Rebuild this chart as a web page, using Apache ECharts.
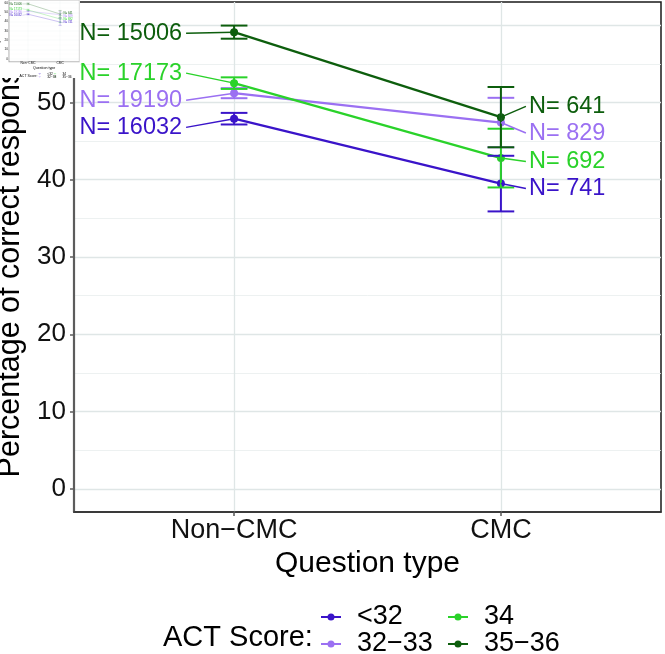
<!DOCTYPE html>
<html>
<head>
<meta charset="utf-8">
<script src="https://cdn.jsdelivr.net/npm/echarts@6/dist/echarts.min.js"></script>
<style>
html, body { margin: 0; padding: 0; background: #fff; }
#chart { width: 665px; height: 654px; }
</style>
</head>
<body>
<div id="chart"></div>
<script>
// data
var categories = ['Non\u2212CMC', 'CMC'];
var groupNames = ['<32', '32\u221233', '34', '35\u221236'];
var meanLt32 = [47.9, 39.5];
var mean3233 = [51.2, 47.4];
var mean34 = [52.5, 42.8];
var mean3536 = [59.1, 48.1];
var errLt32 = [0.75, 3.6];
var err3233 = [0.65, 3.2];
var err34 = [0.75, 3.8];
var err3536 = [0.85, 3.9];
var nLt32 = [16032, 741];
var n3233 = [19190, 829];
var n34 = [17173, 692];
var n3536 = [15006, 641];
var yTicks = [0, 10, 20, 30, 40, 50, 60];
var yMinor = [5, 15, 25, 35, 45, 55];

var FONT = 'Liberation Sans';
var colors = ['#3a14c9', '#9b70f2', '#2ad22a', '#0d5e0d'];

// where the N= labels sit relative to their point (px)
var labelOffsets = [
    [[-52, 8.7], [28, 5]],
    [[-52, 7], [28, 10.5]],
    [[-52, -10], [28, 3.4]],
    [[-52, 1], [28, -10.8]]
];

var groups = [
    { mean: meanLt32, err: errLt32, n: nLt32 },
    { mean: mean3233, err: err3233, n: n3233 },
    { mean: mean34, err: err34, n: n34 },
    { mean: mean3536, err: err3536, n: n3536 }
];

var legendIcon = 'path://M0,3.5L20,3.5L20,5.5L0,5.5ZM13.5,4.5A3.5,3.5,0,1,1,6.5,4.5A3.5,3.5,0,1,1,13.5,4.5Z';

var option = {
    animation: false,
    backgroundColor: '#fff',
    textStyle: { fontFamily: FONT },
    grid: [], xAxis: [], yAxis: [], series: [], legend: [], graphic: []
};

function addChart(s, ox, oy, zb) {
    var gi = option.grid.length;
    var xi = option.xAxis.length;
    var yi = option.yAxis.length;

    option.grid.push({
        left: ox + 74 * s, top: oy + 2 * s, width: 587 * s, height: 510 * s,
        outerBoundsMode: 'none', containLabel: false,
        show: true, backgroundColor: '#fff', borderColor: '#1a1a1a', borderWidth: 1.5 * s, z: zb
    });

    option.xAxis.push({
        type: 'value', gridIndex: gi, min: 0.4, max: 2.6, z: zb + 1,
        name: 'Question type', nameLocation: 'middle', nameGap: 34 * s,
        nameTextStyle: { fontSize: 30 * s, color: '#000' },
        axisLine: { show: true, onZero: false, lineStyle: { color: '#333', width: 1.5 * s } },
        axisTick: { show: true, customValues: [1, 2], length: 4 * s, lineStyle: { color: '#555', width: 1.5 * s } },
        axisLabel: {
            customValues: [1, 2], fontSize: 27 * s, margin: 5 * s, color: '#111',
            formatter: function (v) { return categories[Math.round(v) - 1]; }
        },
        splitLine: { show: true, lineStyle: { color: '#dfe6e6', width: 1.3 * s } }
    });

    option.yAxis.push({
        type: 'value', gridIndex: gi, position: 'left', min: -3, max: 63, z: zb + 1,
        name: 'Percentage of correct responses', nameLocation: 'middle', nameGap: 36 * s,
        nameTextStyle: { fontSize: 30.5 * s, color: '#000' },
        axisLine: { show: true, onZero: false, lineStyle: { color: '#5c5c5c', width: 2.2 * s } },
        axisTick: { show: true, customValues: yTicks, length: 4 * s, lineStyle: { color: '#5c5c5c', width: 1.5 * s } },
        axisLabel: { customValues: yTicks, fontSize: 26 * s, margin: 8 * s, color: '#111' },
        splitLine: { show: true, lineStyle: { color: '#dfe6e6', width: 1.3 * s } }
    });
    // minor grid lines
    option.yAxis.push({
        type: 'value', gridIndex: gi, position: 'left', min: -3, max: 63, z: zb,
        axisLine: { show: false, onZero: false },
        axisTick: { show: false, customValues: yMinor },
        axisLabel: { show: false, customValues: yMinor },
        splitLine: { show: true, lineStyle: { color: '#e9eeee', width: 0.8 * s } }
    });

    groups.forEach(function (g, k) {
        var c = colors[k];
        option.series.push({
            name: groupNames[k], type: 'line', xAxisIndex: xi, yAxisIndex: yi, z: zb + 2,
            data: g.mean.map(function (m, i) { return [i + 1, m]; }),
            symbol: 'circle', symbolSize: 8 * s, showSymbol: true,
            itemStyle: { color: c }, lineStyle: { color: c, width: 2.2 * s },
            silent: true
        });
        option.series.push({
            type: 'custom', xAxisIndex: xi, yAxisIndex: yi, z: zb + 3, silent: true,
            data: g.mean.map(function (m, i) { return [i + 1, m - g.err[i], m + g.err[i]]; }),
            renderItem: function (params, api) {
                var x = api.value(0);
                var lo = api.coord([x, api.value(1)]);
                var hi = api.coord([x, api.value(2)]);
                var w = api.coord([x + 0.05, api.value(1)])[0] - lo[0];
                var st = { stroke: c, lineWidth: 2 * s };
                return {
                    type: 'group', children: [
                        { type: 'line', shape: { x1: lo[0], y1: lo[1], x2: hi[0], y2: hi[1] }, style: st },
                        { type: 'line', shape: { x1: lo[0] - w, y1: lo[1], x2: lo[0] + w, y2: lo[1] }, style: st },
                        { type: 'line', shape: { x1: hi[0] - w, y1: hi[1], x2: hi[0] + w, y2: hi[1] }, style: st }
                    ]
                };
            }
        });
        option.series.push({
            type: 'custom', xAxisIndex: xi, yAxisIndex: yi, z: zb + 4, silent: true, clip: false,
            data: g.mean.map(function (m, i) { return [i + 1, m, g.n[i], i]; }),
            renderItem: function (params, api) {
                var p = api.coord([api.value(0), api.value(1)]);
                var idx = api.value(3);
                var off = labelOffsets[k][idx];
                var tx = p[0] + off[0] * s, ty = p[1] + off[1] * s;
                var isLeft = idx === 0;
                var lx = isLeft ? tx + 4 * s : tx - 3 * s;
                return {
                    type: 'group', children: [
                        { type: 'line', shape: { x1: lx, y1: ty, x2: p[0], y2: p[1] }, style: { stroke: c, lineWidth: 1.5 * s } },
                        {
                            type: 'text', style: {
                                text: 'N= ' + api.value(2), x: tx, y: ty,
                                align: isLeft ? 'right' : 'left', verticalAlign: 'middle',
                                fill: c, fontSize: 23.5 * s, fontFamily: FONT
                            }
                        }
                    ]
                };
            }
        });
    });

    [[0, 1, 321], [2, 3, 448]].forEach(function (col) {
        option.legend.push({
            data: [groupNames[col[0]], groupNames[col[1]]],
            orient: 'vertical', left: ox + col[2] * s, top: oy + 603.5 * s,
            width: 200 * s, height: 100 * s,
            padding: 0, itemGap: 0, itemWidth: 20 * s, itemHeight: 7 * s,
            icon: legendIcon, selectedMode: false, z: zb + 5,
            textStyle: { fontSize: 27 * s, lineHeight: 25 * s, color: '#000', padding: [0, 0, 0, 11 * s] }
        });
    });

    option.graphic.push({
        type: 'text', x: ox + 163 * s, y: oy + 637.5 * s, z: zb + 5,
        style: { text: 'ACT Score:', fontSize: 29 * s, fontFamily: FONT, fill: '#000', align: 'left', verticalAlign: 'middle' }
    });
}

addChart(1, 0, 0, 0);

// small thumbnail pasted in the top-left corner
option.graphic.push({
    type: 'rect', x: 0, y: 0, z: 10, shape: { width: 80, height: 78 }, style: { fill: '#fff' }
});
addChart(0.12, 0, 0, 20);

var myChart = echarts.init(document.getElementById('chart'));
myChart.setOption(option);
</script>
</body>
</html>
